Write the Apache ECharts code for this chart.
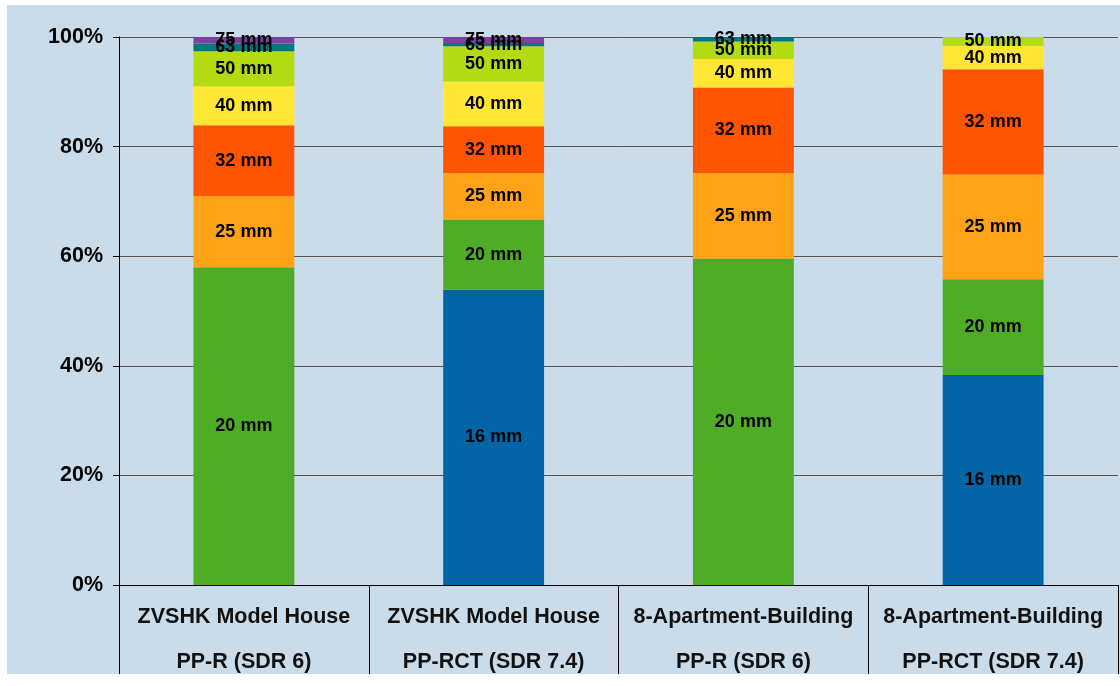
<!DOCTYPE html>
<html>
<head>
<meta charset="utf-8">
<script src="https://cdn.jsdelivr.net/npm/echarts@6/dist/echarts.min.js"></script>
<style>
html,body{margin:0;padding:0;background:#fff;}
#chart{width:1120px;height:686px;}
</style>
</head>
<body>
<div id="chart"></div>
<script>
const categoriesLine1 = ['ZVSHK Model House', 'ZVSHK Model House', '8-Apartment-Building', '8-Apartment-Building'];
const categoriesLine2 = ['PP-R (SDR 6)', 'PP-RCT (SDR 7.4)', 'PP-R (SDR 6)', 'PP-RCT (SDR 7.4)'];
const seriesNames = ['16 mm', '20 mm', '25 mm', '32 mm', '40 mm', '50 mm', '63 mm', '75 mm'];
const s16 = [null, 53.9, null, 38.3];
const s20 = [58.0, 12.8, 59.6, 17.5];
const s25 = [13.0, 8.5, 15.6, 19.1];
const s32 = [12.9, 8.5, 15.6, 19.2];
const s40 = [7.1, 8.2, 5.2, 4.3];
const s50 = [6.4, 6.4, 3.2, 1.6];
const s63 = [1.4, 0.6, 0.8, null];
const s75 = [1.2, 1.1, null, null];
const seriesValues = [s16, s20, s25, s32, s40, s50, s63, s75];
const colors = ['#0465a6', '#4fac26', '#ffa216', '#ff5400', '#ffe733', '#b4da12', '#00787e', '#7c40a0'];

const FONT = '"Liberation Sans", Arial, sans-serif';
const categories = categoriesLine1.map((c, i) => c + '\n' + categoriesLine2[i]);

const chart = echarts.init(document.getElementById('chart'));
chart.setOption({
  backgroundColor: '#ffffff',
  animation: false,
  graphic: [{
    type: 'rect', z: -10, silent: true,
    shape: { x: 7, y: 5, width: 1113, height: 669 },
    style: { fill: '#cadcea' }
  }],
  grid: { left: 119, right: 2, top: 37, bottom: 101 },
  xAxis: {
    type: 'category',
    data: categories,
    axisLine: { lineStyle: { color: '#000', width: 1 } },
    axisTick: { show: true, length: 89, lineStyle: { color: '#000', width: 1 } },
    axisLabel: {
      margin: 10, color: '#111', fontWeight: 'bold', fontSize: 21.5,
      fontFamily: FONT, lineHeight: 45, interval: 0
    }
  },
  yAxis: {
    type: 'value', min: 0, max: 100, interval: 20,
    axisLine: { show: true, lineStyle: { color: '#000', width: 1 } },
    axisTick: { show: true, length: 6, lineStyle: { color: '#000' } },
    splitLine: { lineStyle: { color: '#555', width: 1 } },
    axisLabel: {
      formatter: '{value}%', margin: 16, color: '#000', fontWeight: 'bold',
      fontSize: 21.5, fontFamily: FONT
    }
  },
  series: seriesNames.map((name, i) => ({
    name: name,
    type: 'bar',
    stack: 'total',
    barWidth: '40.4%',
    data: seriesValues[i],
    itemStyle: { color: colors[i] },
    label: {
      show: true, position: 'inside', formatter: '{a}',
      color: '#000', fontWeight: 'bold', fontSize: 18, fontFamily: FONT
    }
  }))
});
</script>
</body>
</html>
